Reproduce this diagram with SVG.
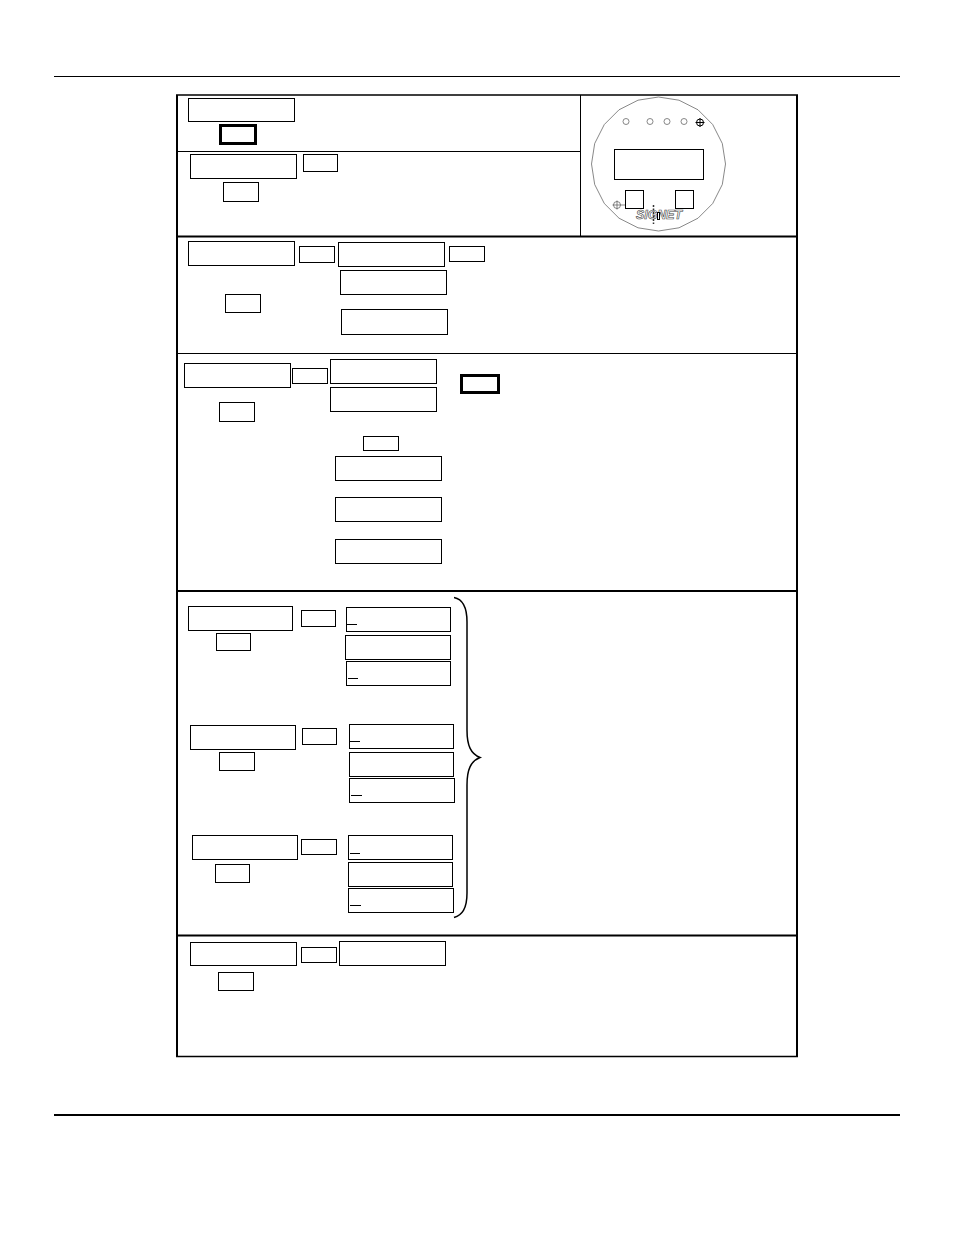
<svg xmlns="http://www.w3.org/2000/svg" width="954" height="1235" viewBox="0 0 954 1235">
<style>
.b{fill:#fff;stroke:#000;stroke-width:1}
.t{fill:#fff;stroke:#000;stroke-width:3}
.l{stroke:#000;fill:none}
.g{stroke:#555;stroke-width:.7;fill:none}
.u{stroke:#000;stroke-width:1}
.logo{font-family:"Liberation Sans",sans-serif;font-size:12px;font-weight:700;font-style:italic;fill:#fff;stroke:#444;stroke-width:.6}
</style>
<rect width="954" height="1235" fill="#fff"/>
<g id="page-rules">
<path class="l" d="M54 76.500H900"/>
<path class="l" stroke-width="2" d="M54 1115H900"/>
</g>
<g id="frame">
<path class="l" stroke-width="2" d="M177 95V1057M797 95V1057"/>
<path class="l" stroke-width="1.500" d="M176 95H798M176 1056.500H798"/>
<path class="l" d="M177 151.500H580M580.500 95V236M177 353.500H797"/>
<path class="l" stroke-width="2" d="M177 236.500H797M177 591H797M177 935.500H797"/>
</g>
<g id="n1"><rect class="b" x="188.500" y="98.500" width="106" height="23"/><rect class="t" x="220.500" y="125.500" width="35" height="18"/></g>
<g id="n2"><rect class="b" x="190.500" y="154.500" width="106" height="24"/><rect class="b" x="303.500" y="154.500" width="34" height="17"/><rect class="b" x="223.500" y="182.500" width="35" height="19"/></g>
<g id="n3"><rect class="b" x="188.500" y="241.500" width="106" height="24"/><rect class="b" x="299.500" y="246.500" width="35" height="16"/><rect class="b" x="338.500" y="242.500" width="106" height="24"/><rect class="b" x="449.500" y="246.500" width="35" height="15"/><rect class="b" x="340.500" y="270.500" width="106" height="24"/><rect class="b" x="225.500" y="294.500" width="35" height="18"/><rect class="b" x="341.500" y="309.500" width="106" height="25"/></g>
<g id="n4"><rect class="b" x="184.500" y="363.500" width="106" height="24"/><rect class="b" x="292.500" y="368.500" width="35" height="15"/><rect class="b" x="330.500" y="359.500" width="106" height="24"/><rect class="b" x="330.500" y="387.500" width="106" height="24"/><rect class="t" x="461.500" y="375.500" width="37" height="17"/><rect class="b" x="219.500" y="402.500" width="35" height="19"/><rect class="b" x="363.500" y="436.500" width="35" height="14"/><rect class="b" x="335.500" y="456.500" width="106" height="24"/><rect class="b" x="335.500" y="497.500" width="106" height="24"/><rect class="b" x="335.500" y="539.500" width="106" height="24"/></g>
<g id="n5"><rect class="b" x="188.500" y="606.500" width="104" height="24"/><rect class="b" x="301.500" y="610.500" width="34" height="16"/><rect class="b" x="216.500" y="633.500" width="34" height="17"/><rect class="b" x="346.500" y="607.500" width="104" height="24"/><path class="u" d="M347 624.500H357"/><rect class="b" x="345.500" y="635.500" width="105" height="24"/><rect class="b" x="346.500" y="661.500" width="104" height="24"/><path class="u" d="M348 678.500H358"/></g>
<g id="n6"><rect class="b" x="190.500" y="725.500" width="105" height="24"/><rect class="b" x="302.500" y="728.500" width="34" height="16"/><rect class="b" x="219.500" y="752.500" width="35" height="18"/><rect class="b" x="349.500" y="724.500" width="104" height="24"/><path class="u" d="M350 741.500H360"/><rect class="b" x="349.500" y="752.500" width="104" height="24"/><rect class="b" x="349.500" y="778.500" width="105" height="24"/><path class="u" d="M351 795.500H362"/></g>
<g id="n7"><rect class="b" x="192.500" y="835.500" width="105" height="24"/><rect class="b" x="301.500" y="839.500" width="35" height="15"/><rect class="b" x="215.500" y="864.500" width="34" height="18"/><rect class="b" x="348.500" y="835.500" width="104" height="24"/><path class="u" d="M350 853.500H360"/><rect class="b" x="348.500" y="862.500" width="104" height="24"/><rect class="b" x="348.500" y="888.500" width="105" height="24"/><path class="u" d="M350 905.500H361"/></g>
<g id="n8"><rect class="b" x="190.500" y="942.500" width="106" height="23"/><rect class="b" x="301.500" y="947.500" width="35" height="15"/><rect class="b" x="339.500" y="941.500" width="106" height="24"/><rect class="b" x="218.500" y="972.500" width="35" height="18"/></g>
<g id="brace"><path class="l" stroke-width="1.500" d="M454 597.500C462 599 467 606 467 622V730C467 746 471 754 480 757.500C471 761 467 769 467 785V893C467 909 462 915 454 917.500"/></g>
<g id="meter">
<polygon class="g" points="658.500,97 679,100.200 698,109.800 712.700,124.500 722.300,143.500 725.500,164 722.300,184.500 712.700,203.500 698,218.200 679,227.800 658.500,231 638,227.800 619,218.200 604.300,203.500 594.700,184.500 591.500,164 594.700,143.500 604.300,124.500 619,109.800 638,100.200"/>
<circle class="g" cx="626" cy="121.500" r="3"/><circle class="g" cx="650" cy="121.500" r="3"/><circle class="g" cx="667" cy="121.500" r="3"/><circle class="g" cx="684" cy="121.500" r="3"/>
<circle class="u" fill="none" stroke-width=".8" cx="700" cy="122.500" r="3.500"/><path class="u" d="M695.500 122.500H704.500M700 118V127"/>
<circle class="g" cx="617" cy="205" r="3.500"/><path class="g" d="M612.500 205H625M617 200.500V209.500"/>
<rect class="b" x="614.500" y="149.500" width="89" height="30"/>
<rect class="b" x="625.500" y="190.500" width="18" height="18"/>
<rect class="b" x="675.500" y="190.500" width="18" height="18"/>
<text class="logo" x="636" y="219" textLength="46" lengthAdjust="spacingAndGlyphs">SIGNET</text>
<path stroke="#333" stroke-width="1.500" stroke-dasharray="2 1.500" d="M653.500 205V224"/>
<rect x="657.500" y="212.500" width="2" height="7" fill="#fff" stroke="#000" stroke-width="1"/>
</g>
</svg>
